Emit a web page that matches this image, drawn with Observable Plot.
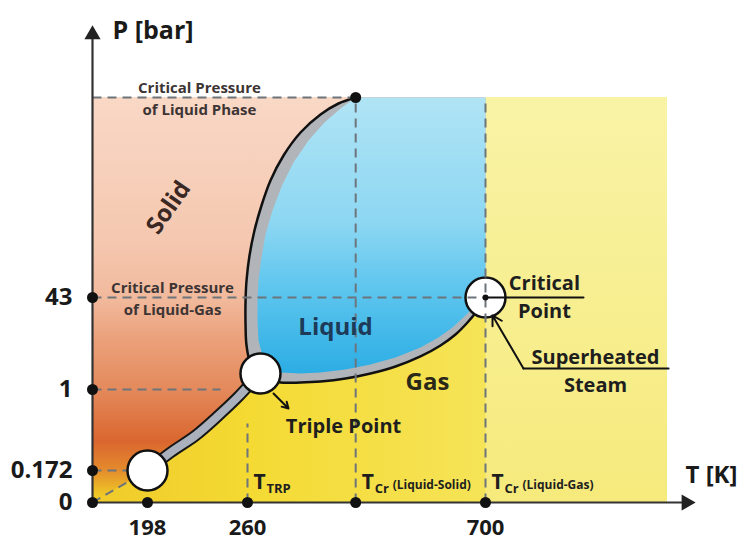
<!DOCTYPE html>
<html><head><meta charset="utf-8">
<script src="https://cdn.jsdelivr.net/npm/d3@7"></script>
<script src="https://cdn.jsdelivr.net/npm/@observablehq/plot@0.6"></script>
<style>
html,body{margin:0;padding:0;background:#fff;}
svg{display:block;}
</style></head><body><div id="chart"></div>
<script>
// ---- axis ticks (schematic, piecewise axes) ----
const tTicks = [198, 260, 700];          // T [K] labelled ticks
const tCrLiquidSolid = 460;              // unlabelled T_Cr (Liquid-Solid) tick
const tMax = 1000;
const pTicks = [0, 0.172, 1, 43];        // P [bar] labelled ticks
const pTop = 243;                        // critical pressure of liquid phase (unlabelled)

// ---- phase boundaries [T, P] ----
const meltingOuter = [[460,243],[428.2,237],[395,226],[358,208],[326.6,185],[302.5,160],[285.9,135],[272.9,110],[263.7,85],[259.4,60],[258.8,41.6],[258.8,30.2],[259.4,21.1],[265.5,13.3],[284,8.3]];
const meltingInner = [[460,243],[432,232],[402.4,218],[372.8,200],[345,178],[322.9,154],[306.2,130],[293.3,106],[285.9,83],[280.3,60],[278.5,41.6],[278.5,32.5],[280.3,23.4],[287.7,16.5]];
const vapOuter = [[284,8.3],[287.7,6.0],[321,4.2],[358,4.2],[395,4.65],[441.2,6.0],[487.4,8.3],[533.6,11.5],[579.8,16.1],[616.8,21.1],[644.5,26.1],[666.7,31.6],[683.4,36.6],[700,43]];
const vapInner = [[295.1,10.6],[321,8.8],[358,8.3],[395,8.8],[441.2,10.1],[487.4,12.4],[533.6,15.6],[579.8,20.2],[613.1,24.7],[639,29.3],[663,34.8],[683.4,39.8],[700,43]];
const sublimation = [[198,0.172],[212.3,0.356],[227.8,0.53],[242,0.734],[254.4,0.928],[269.2,4.65],[284,8.3]];

// ---- special points ----
const lowPoint = {T:198, P:0.172};
const triplePoint = {T:284, P:8.3};
const criticalPoint = {T:700, P:43};

// ---- dashed guide lines ----
const guides = [
  {t1:0, p1:pTop, t2:460, p2:pTop},
  {t1:0, p1:43, t2:700, p2:43},
  {t1:0, p1:1, t2:243.3, p2:1},
  {t1:0, p1:0.172, t2:126, p2:0.172},
  {t1:0, p1:0, t2:198, p2:0.172},
  {t1:460, p1:0, t2:460, p2:pTop},
  {t1:700, p1:0, t2:700, p2:pTop},
  {t1:260, p1:0, t2:260, p2:0.652}
];

// ---- labels ----
const phaseLabels = [
  {text:"Solid", T:211, P:133, rotate:-55, color:"#3a2824"},
  {text:"Liquid", T:422.7, P:29.3, rotate:0, color:"#1d3a58"},
  {text:"Gas", T:592.8, P:4.2, rotate:0, color:"#2a2818"}
];
const pressureNotes = [
  {text:"Critical Pressure\nof Liquid Phase", T:230.2, P:244},
  {text:"Critical Pressure\nof Liquid-Gas", T:213.5, P:44}
];
const pointNotes = [
  {text:"Triple Point", T:437.5, P:0.652},
  {text:"Critical\nPoint", T:797.2, P:45},
  {text:"Superheated\nSteam", T:881.3, P:10.4}
];
const tLabels = [
  {T:260, main:"T", sub:"TRP", note:""},
  {T:460, main:"T", sub:"Cr", note:"(Liquid-Solid)"},
  {T:700, main:"T", sub:"Cr", note:"(Liquid-Gas)"}
];
const criticalLeader = [[700,43],[861.5,43]];
const steamLeader = [[762.6,10.6],[1001.7,10.6]];
const steamArrow = {x1:762.6, y1:10.6, x2:711.5, y2:34.8};
const tripleArrow = {x1:308.1, y1:0.959, x2:335.8, y2:0.806};

// ---- regions ----
const gasPoly = [[0,0], ...sublimation, ...vapOuter.slice(1), [700,0]];
const bandPoly = [...meltingOuter, ...vapOuter.slice(1), [700,pTop]];
const liquidPoly = [...meltingInner, ...vapInner, [700,pTop]];

// schematic (piecewise) axes: break values -> share of axis length
const tPiece = d3.scaleLinear().domain([0, 198, 260, 700, tMax]).range([0, 9.565, 26.957, 68.348, 100]);
const pPiece = d3.scaleLinear().domain([0, 0.172, 1, 43, pTop]).range([0, 7.901, 27.901, 50.617, 100]);

const X = d => d[0], Y = d => d[1];
const dashColor = "#6d747b";
const font = "'Open Sans', 'DejaVu Sans', sans-serif";

const svg = Plot.plot({
  width: 745, height: 541,
  style: {fontFamily: font, background: "white", overflow: "visible"},
  x: {type: "linear", transform: tPiece, domain: [0, 100], range: [92, 667], axis: null},
  y: {type: "linear", transform: pPiece, domain: [0, 100], range: [502, 97], axis: null},
  marks: [
    Plot.rect([{x1:0, x2:700, y1:0, y2:pTop}], {x1:"x1", x2:"x2", y1:"y1", y2:"y2", fill:"url(#solidGrad)"}),
    Plot.rect([{x1:700, x2:tMax, y1:0, y2:pTop}], {x1:"x1", x2:"x2", y1:"y1", y2:"y2", fill:"url(#superGrad)"}),
    Plot.line(gasPoly, {x:X, y:Y, fill:"url(#gasGrad)", stroke:"none"}),
    Plot.line(bandPoly, {x:X, y:Y, fill:"#b1b5ba", stroke:"none"}),
    Plot.line(liquidPoly, {x:X, y:Y, fill:"url(#liqGrad)", stroke:"none"}),
    Plot.line(meltingOuter, {x:X, y:Y, stroke:"#111", strokeWidth:2.5, curve:"catmull-rom"}),
    Plot.line(vapOuter, {x:X, y:Y, stroke:"#111", strokeWidth:2.5, curve:"catmull-rom"}),
    Plot.line(sublimation, {x:X, y:Y, stroke:"#151515", strokeWidth:12, curve:"catmull-rom", strokeLinecap:"butt"}),
    Plot.line(sublimation, {x:X, y:Y, stroke:"#aab1bc", strokeWidth:8, curve:"catmull-rom", strokeLinecap:"butt"}),
    Plot.dot([criticalPoint], {x:"T", y:"P", r:20, fill:"white", stroke:"#111", strokeWidth:2.5}),
    Plot.link(guides, {x1:"t1", y1:"p1", x2:"t2", y2:"p2", stroke:dashColor, strokeWidth:2, strokeDasharray:"9,6"}),
    Plot.dot([lowPoint, triplePoint], {x:"T", y:"P", r:20, fill:"white", stroke:"#111", strokeWidth:2.5}),
    Plot.line(criticalLeader, {x:X, y:Y, stroke:"#111", strokeWidth:2}),
    Plot.dot([criticalPoint], {x:"T", y:"P", r:3, fill:"#111"}),
    Plot.line(steamLeader, {x:X, y:Y, stroke:"#111", strokeWidth:2}),
    Plot.arrow([steamArrow], {x1:"x1", y1:"y1", x2:"x2", y2:"y2", stroke:"#111", strokeWidth:2, headLength:8}),
    Plot.arrow([tripleArrow], {x1:"x1", y1:"y1", x2:"x2", y2:"y2", stroke:"#111", strokeWidth:2, headLength:8}),
    // axes
    Plot.link([{x1:0, y1:0, x2:0, y2:306}, {x1:0, y1:0, x2:1031, y2:0}], {x1:"x1", y1:"y1", x2:"x2", y2:"y2", stroke:"#333", strokeWidth:2.2}),
    Plot.dot([{T:0, P:306, a:0}, {T:1031, P:0, a:90}], {x:"T", y:"P", symbol:"triangle", r:6, fill:"#222", rotate:"a"}),
    Plot.dot(pTicks, {x:() => 0, y:d => d, r:5.5, fill:"#111"}),
    Plot.dot([...tTicks, tCrLiquidSolid], {x:d => d, y:() => 0, r:5.5, fill:"#111"}),
    Plot.dot([{T:tCrLiquidSolid, P:pTop}], {x:"T", y:"P", r:5.5, fill:"#111"}),
    Plot.text(pTicks, {x:() => 0, y:d => d, text:d => String(d), textAnchor:"end", dx:-20, fontSize:24, fontWeight:700, fill:"#1a1a1a"}),
    Plot.text(tTicks, {x:d => d, y:() => 0, text:d => String(d), dy:25, fontSize:22, fontWeight:700, fill:"#1a1a1a"}),
    Plot.text(["P [bar]"], {x:() => 72, y:() => 309, text:d => d, textAnchor:"start", fontSize:25, fontWeight:700, fill:"#1a1a1a"}),
    Plot.text(["T [K]"], {x:() => 1029.7, y:() => 0.145, text:d => d, textAnchor:"start", fontSize:24, fontWeight:700, fill:"#1a1a1a"}),
    // labels
    Plot.text(phaseLabels, {x:"T", y:"P", text:"text", rotate:"rotate", fill:"color", fontSize:24, fontWeight:700}),
    Plot.text(pressureNotes, {x:"T", y:"P", text:"text", fontSize:15, fontWeight:700, lineHeight:1.47, fill:"#3d3434"}),
    Plot.text(pointNotes, {x:"T", y:"P", text:"text", fontSize:20, fontWeight:700, lineHeight:1.4, fill:"#1e1e1e"}),
    Plot.text(tLabels, {x:"T", y:() => 0, text:"main", textAnchor:"start", dx:6, dy:-20, fontSize:21, fontWeight:700, fill:"#1e1e1e"}),
    Plot.text(tLabels, {x:"T", y:() => 0, text:"sub", textAnchor:"start", dx:19, dy:-14, fontSize:13, fontWeight:700, fill:"#1e1e1e"}),
    Plot.text(tLabels, {x:"T", y:() => 0, text:"note", textAnchor:"start", dx:37, dy:-17, fontSize:12, fontWeight:700, fill:"#1e1e1e"})
  ]
});

d3.select(svg).insert("defs", ":first-child").html(`
  <linearGradient id="solidGrad" x1="0" y1="0" x2="0" y2="1">
    <stop offset="0" stop-color="#f9d8c6"/>
    <stop offset="0.35" stop-color="#f5c8b0"/>
    <stop offset="0.5" stop-color="#f1b99c"/>
    <stop offset="0.6" stop-color="#eba07a"/>
    <stop offset="0.72" stop-color="#e48a5c"/>
    <stop offset="0.85" stop-color="#da662f"/>
    <stop offset="0.92" stop-color="#e48a2c"/>
    <stop offset="0.98" stop-color="#eec626"/>
    <stop offset="1" stop-color="#f0cc24"/>
  </linearGradient>
  <linearGradient id="liqGrad" x1="0" y1="0" x2="0" y2="1">
    <stop offset="0" stop-color="#b0e4f5"/>
    <stop offset="0.45" stop-color="#8dd7f2"/>
    <stop offset="0.7" stop-color="#5cc5ee"/>
    <stop offset="1" stop-color="#2cade4"/>
  </linearGradient>
  <linearGradient id="gasGrad" x1="0" y1="0" x2="1" y2="0">
    <stop offset="0" stop-color="#f0ca2a"/>
    <stop offset="0.4" stop-color="#f4da33"/>
    <stop offset="1" stop-color="#f6e458"/>
  </linearGradient>
  <linearGradient id="superGrad" x1="0" y1="0" x2="0" y2="1">
    <stop offset="0" stop-color="#f9f3a6"/>
    <stop offset="1" stop-color="#f6ea7c"/>
  </linearGradient>
`);

document.getElementById("chart").appendChild(svg);
</script></body></html>
